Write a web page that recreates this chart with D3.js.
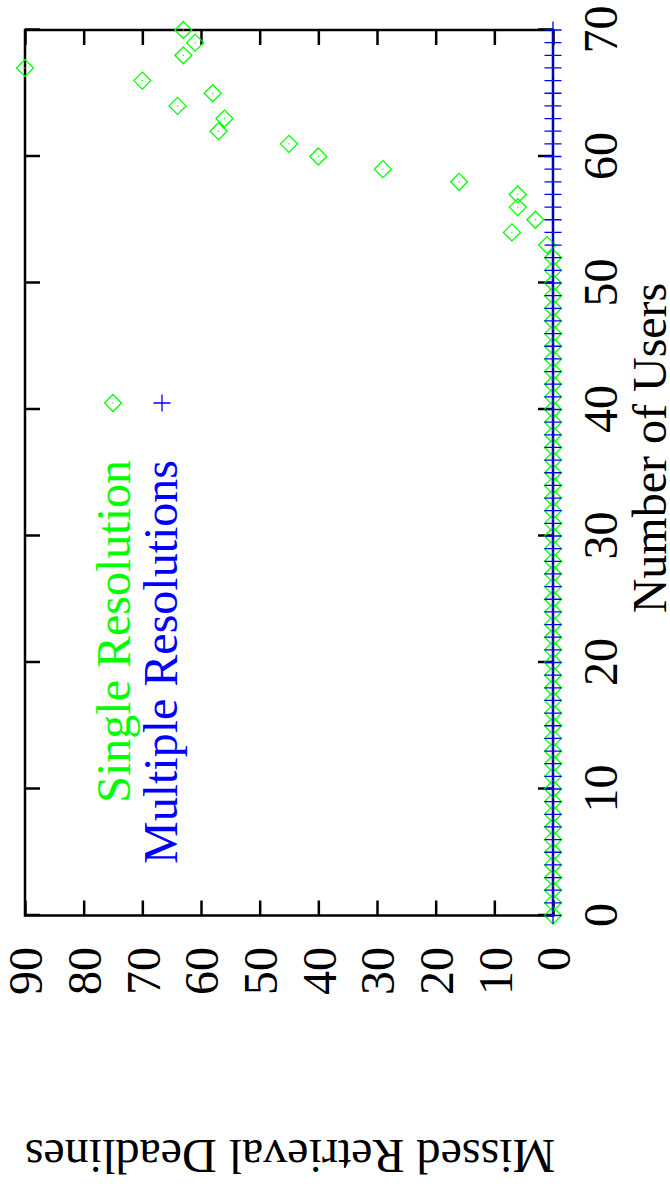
<!DOCTYPE html>
<html>
<head>
<meta charset="utf-8">
<script src="https://cdn.jsdelivr.net/npm/d3@7"></script>
<style>
  body { margin: 0; background: #fff; }
  svg { display: block; }
  text { font-family: "Liberation Serif", "Times New Roman", serif; }
</style>
</head>
<body>
<svg id="chart"></svg>
<script>
// data
const users = [0,1,2,3,4,5,6,7,8,9,10,11,12,13,14,15,16,17,18,19,20,
  21,22,23,24,25,26,27,28,29,30,31,32,33,34,35,36,37,38,39,40,
  41,42,43,44,45,46,47,48,49,50,51,52,53,54,55,56,57,58,59,60,
  61,62,63,64,65,66,67,68,69,70];
const singleRes = [0,0,0,0,0,0,0,0,0,0,0,0,0,0,0,0,0,0,0,0,0,
  0,0,0,0,0,0,0,0,0,0,0,0,0,0,0,0,0,0,0,0,
  0,0,0,0,0,0,0,0,0,0,0,0,1,7,3,6,6,16,29,40,
  45,57,56,64,58,70,90,63,61,63];
const multiRes = [0,0,0,0,0,0,0,0,0,0,0,0,0,0,0,0,0,0,0,0,0,
  0,0,0,0,0,0,0,0,0,0,0,0,0,0,0,0,0,0,0,0,
  0,0,0,0,0,0,0,0,0,0,0,0,0,0,0,0,0,0,0,0,
  0,0,0,0,0,0,0,0,0,0];
const seriesNames = ["Single Resolution", "Multiple Resolutions"];
const xTicks = [0,10,20,30,40,50,60,70];
const yTicks = [0,10,20,30,40,50,60,70,80,90];

const WIDTH = 670, HEIGHT = 1188;
const FONT = 48;
const TICK = 15;
const GREEN = "#00ff00", BLUE = "#0000ff";

const svg = d3.select('#chart').attr('width', WIDTH).attr('height', HEIGHT);
// the plot is laid out landscape and then turned 90deg counter-clockwise
const g = svg.append('g').attr('transform', `translate(0,${HEIGHT}) rotate(-90)`);

const xScale = d3.scaleLinear().domain([0, 70]).range([272.5, 1158]);
const yScale = d3.scaleLinear().domain([0, 90]).range([553, 25]);

function styleAxis(sel) {
  sel.attr('font-size', FONT).attr('font-family', null);
  sel.select('.domain').remove();
  sel.selectAll('line').attr('stroke', '#000').attr('stroke-width', 2.5);
  sel.selectAll('text').attr('fill', '#000');
}

// x axis (bottom) with labels
g.append('g')
  .attr('transform', `translate(0,${yScale(0)})`)
  .call(d3.axisBottom(xScale).tickValues(xTicks).tickSizeInner(-TICK).tickSizeOuter(0))
  .call(styleAxis)
  .call(s => s.selectAll('text').attr('y', 64).attr('dy', null));

// x mirror (top)
g.append('g')
  .attr('transform', `translate(0,${yScale(90)})`)
  .call(d3.axisTop(xScale).tickValues(xTicks).tickSizeInner(-TICK).tickSizeOuter(0).tickFormat(''))
  .call(styleAxis);

// y axis (left) with labels
g.append('g')
  .attr('transform', `translate(${xScale(0)},0)`)
  .call(d3.axisLeft(yScale).tickValues(yTicks).tickSizeInner(-TICK).tickSizeOuter(0))
  .call(styleAxis)
  .call(s => s.selectAll('text').attr('x', -31.5).attr('dy', '0.35em'));

// y mirror (right)
g.append('g')
  .attr('transform', `translate(${xScale(70)},0)`)
  .call(d3.axisRight(yScale).tickValues(yTicks).tickSizeInner(-TICK).tickSizeOuter(0).tickFormat(''))
  .call(styleAxis);

// border
g.append('rect')
  .attr('x', xScale(0)).attr('y', yScale(90))
  .attr('width', xScale(70) - xScale(0))
  .attr('height', yScale(0) - yScale(90))
  .attr('fill', 'none').attr('stroke', '#000').attr('stroke-width', 2.5);

const R = 8.5;
const diamond = `M0,${-R}L${R},0L0,${R}L${-R},0Z`;
const plus = `M${-R},0H${R}M0,${-R}V${R}`;

function drawDiamond(sel) {
  sel.append('path').attr('d', diamond).attr('fill', 'none')
    .attr('stroke', GREEN).attr('stroke-width', 1.3);
  sel.append('rect').attr('x', -0.6).attr('y', -0.6).attr('width', 1.2).attr('height', 1.2)
    .attr('fill', GREEN);
}
function drawPlus(sel) {
  sel.append('path').attr('d', plus).attr('fill', 'none')
    .attr('stroke', BLUE).attr('stroke-width', 1.3);
}

// Single Resolution
g.append('g').selectAll('g')
  .data(users)
  .join('g')
  .attr('transform', (d, i) => `translate(${xScale(d)},${yScale(singleRes[i])})`)
  .each(function() { drawDiamond(d3.select(this)); });

// Multiple Resolutions
g.append('g').selectAll('g')
  .data(users)
  .join('g')
  .attr('transform', (d, i) => `translate(${xScale(d)},${yScale(multiRes[i])})`)
  .each(function() { drawPlus(d3.select(this)); });

// legend
const legend = g.append('g');
legend.append('text').attr('x', 728).attr('y', 130).attr('text-anchor', 'end')
  .attr('font-size', FONT).attr('fill', GREEN).text(seriesNames[0]);
legend.append('g').attr('transform', 'translate(785,113)').call(drawDiamond);
legend.append('text').attr('x', 728).attr('y', 177).attr('text-anchor', 'end')
  .attr('font-size', FONT).attr('fill', BLUE).text(seriesNames[1]);
legend.append('g').attr('transform', 'translate(785,162)').call(drawPlus);

// axis titles
g.append('text').attr('x', 740).attr('y', 666).attr('text-anchor', 'middle')
  .attr('font-size', FONT).text('Number of Users');
g.append('text').attr('transform', 'translate(48,290) rotate(-90)')
  .attr('text-anchor', 'middle').attr('font-size', FONT)
  .text('Missed Retrieval Deadlines');
</script>
</body>
</html>
